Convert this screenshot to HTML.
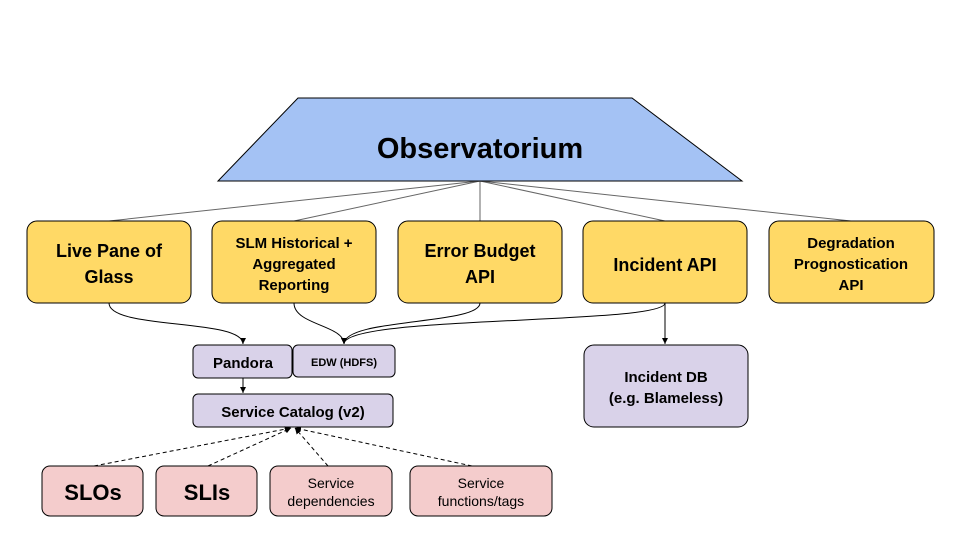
<!DOCTYPE html>
<html><head><style>body{margin:0;background:#fff}svg{display:block}text{font-family:"Liberation Sans",sans-serif;font-weight:bold;fill:#000;text-anchor:middle}</style></head><body>
<svg width="960" height="540" viewBox="0 0 960 540">
<defs><marker id="a" markerWidth="8" markerHeight="8" refX="6" refY="3" orient="auto" markerUnits="userSpaceOnUse"><path d="M0,0 L6,3 L0,6 z" fill="#000"/></marker></defs>
<g stroke="#666" stroke-width="1">
<line x1="480" y1="181" x2="109" y2="221"/><line x1="480" y1="181" x2="294" y2="221"/><line x1="480" y1="181" x2="480" y2="221"/><line x1="480" y1="181" x2="665" y2="221"/><line x1="480" y1="181" x2="851" y2="221"/>
</g>
<polygon points="298,98 632,98 742,181 218,181" fill="#a4c2f4" stroke="#000"/>
<text x="480" y="158" font-size="29">Observatorium</text>
<g fill="#ffd966" stroke="#000">
<rect x="27" y="221" width="164" height="82" rx="10"/><rect x="212" y="221" width="164" height="82" rx="10"/><rect x="398" y="221" width="164" height="82" rx="10"/><rect x="583" y="221" width="164" height="82" rx="10"/><rect x="769" y="221" width="165" height="82" rx="10"/>
</g>
<text font-size="18"><tspan x="109" y="257">Live Pane of</tspan><tspan x="109" y="283">Glass</tspan></text>
<text font-size="15"><tspan x="294" y="248">SLM Historical +</tspan><tspan x="294" y="269">Aggregated</tspan><tspan x="294" y="290">Reporting</tspan></text>
<text font-size="18"><tspan x="480" y="257">Error Budget</tspan><tspan x="480" y="283">API</tspan></text>
<text x="665" y="271" font-size="18">Incident API</text>
<text font-size="15"><tspan x="851" y="248">Degradation</tspan><tspan x="851" y="269">Prognostication</tspan><tspan x="851" y="290">API</tspan></text>
<g fill="none" stroke="#000" stroke-width="1">
<path d="M109,303 C109,330 243,318 243,344" marker-end="url(#a)"/>
<path d="M294,303 C294,325 344,325 344,344" marker-end="url(#a)"/>
<path d="M480,303 C480,325 344,318 344,344" marker-end="url(#a)"/>
<path d="M665,303 C665,325 344,315 344,344" marker-end="url(#a)"/>
<path d="M665,303 L665,344" marker-end="url(#a)"/>
<path d="M243,378 L243,393" marker-end="url(#a)"/>
</g>
<g fill="#d9d2e9" stroke="#000">
<rect x="193" y="345" width="99" height="33" rx="5"/><rect x="293" y="345" width="102" height="32" rx="5"/><rect x="193" y="394" width="200" height="33" rx="5"/><rect x="584" y="345" width="164" height="82" rx="10"/>
</g>
<text x="243" y="368" font-size="15">Pandora</text>
<text x="344" y="366" font-size="11">EDW (HDFS)</text>
<text x="293" y="417" font-size="15">Service Catalog (v2)</text>
<text font-size="15"><tspan x="666" y="382">Incident DB</tspan><tspan x="666" y="403">(e.g. Blameless)</tspan></text>
<g fill="none" stroke="#000" stroke-dasharray="4,3">
<line x1="94" y1="466" x2="291" y2="428" marker-end="url(#a)"/><line x1="208" y1="466" x2="291" y2="428" marker-end="url(#a)"/><line x1="328" y1="466" x2="295" y2="428" marker-end="url(#a)"/><line x1="472" y1="466" x2="295" y2="428" marker-end="url(#a)"/>
</g>
<g fill="#f4cccc" stroke="#000">
<rect x="42" y="466" width="101" height="50" rx="8"/><rect x="156" y="466" width="101" height="50" rx="8"/><rect x="270" y="466" width="122" height="50" rx="8"/><rect x="410" y="466" width="142" height="50" rx="8"/>
</g>
<text x="93" y="500" font-size="22">SLOs</text>
<text x="207" y="500" font-size="22">SLIs</text>
<g style="font-weight:normal"><text font-size="14" style="font-weight:normal"><tspan x="331" y="488">Service</tspan><tspan x="331" y="506">dependencies</tspan></text>
<text font-size="14" style="font-weight:normal"><tspan x="481" y="488">Service</tspan><tspan x="481" y="506">functions/tags</tspan></text></g>
</svg>
</body></html>
